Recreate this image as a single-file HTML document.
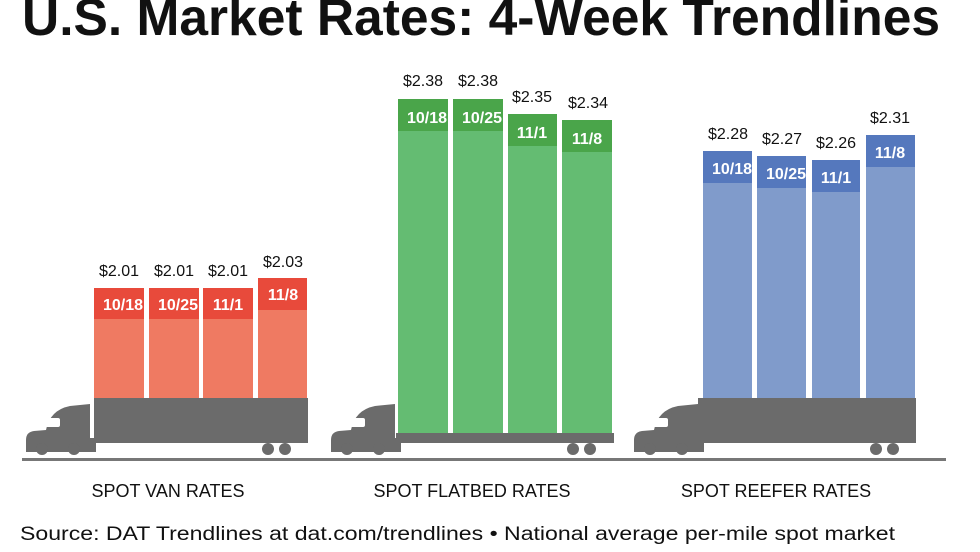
<!DOCTYPE html>
<html><head><meta charset="utf-8"><style>html,body{margin:0;padding:0;background:#fff}svg{display:block}</style></head><body>
<svg width="980" height="552" viewBox="0 0 980 552" xmlns="http://www.w3.org/2000/svg" font-family="Liberation Sans, sans-serif">
<rect width="980" height="552" fill="#fff"/>
<text x="22" y="35" font-size="52" font-weight="bold" fill="#111" textLength="918" lengthAdjust="spacingAndGlyphs">U.S. Market Rates: 4-Week Trendlines</text>
<defs>
<g id="cab" fill="#6b6b6b">
<path d="M26 452 L26 440 Q26 432 34 431 L46 430 Q50 410 70 406 L90 404 L90 438 L96 438 L96 452 Z"/>
<rect x="44" y="418" width="16" height="9" fill="#fff" rx="2"/>
<circle cx="42" cy="449" r="6"/><circle cx="74" cy="449" r="6"/>
</g>
</defs>
<rect x="22" y="458" width="924" height="3" fill="#777"/>
<g>
<rect x="94" y="288" width="50" height="112" fill="#ef7a62"/><rect x="94" y="288" width="50" height="31" fill="#e84a3b"/>
<rect x="149" y="288" width="50" height="112" fill="#ef7a62"/><rect x="149" y="288" width="50" height="31" fill="#e84a3b"/>
<rect x="203" y="288" width="50" height="112" fill="#ef7a62"/><rect x="203" y="288" width="50" height="31" fill="#e84a3b"/>
<rect x="258" y="278" width="49" height="122" fill="#ef7a62"/><rect x="258" y="278" width="49" height="32" fill="#e84a3b"/>
<rect x="94" y="398" width="214" height="45" fill="#6b6b6b"/>
<circle cx="268" cy="449" r="6" fill="#6b6b6b"/><circle cx="285" cy="449" r="6" fill="#6b6b6b"/>
<use href="#cab"/>
</g>
<g font-size="16" fill="#111" text-anchor="middle">
<text x="119" y="276">$2.01</text><text x="174" y="276">$2.01</text><text x="228" y="276">$2.01</text><text x="283" y="267">$2.03</text>
</g>
<g font-size="16" font-weight="bold" fill="#fff" text-anchor="middle">
<text x="123" y="310">10/18</text><text x="178" y="310">10/25</text><text x="228" y="310">11/1</text><text x="283" y="300">11/8</text>
</g>
<g>
<rect x="398" y="99" width="50" height="335" fill="#64bc72"/><rect x="398" y="99" width="50" height="32" fill="#4aa54a"/>
<rect x="453" y="99" width="50" height="335" fill="#64bc72"/><rect x="453" y="99" width="50" height="32" fill="#4aa54a"/>
<rect x="508" y="114" width="49" height="320" fill="#64bc72"/><rect x="508" y="114" width="49" height="32" fill="#4aa54a"/>
<rect x="562" y="120" width="50" height="314" fill="#64bc72"/><rect x="562" y="120" width="50" height="32" fill="#4aa54a"/>
<rect x="396" y="433" width="218" height="10" fill="#6b6b6b"/>
<circle cx="573" cy="449" r="6" fill="#6b6b6b"/><circle cx="590" cy="449" r="6" fill="#6b6b6b"/>
<use href="#cab" transform="translate(305,0)"/>
</g>
<g font-size="16" fill="#111" text-anchor="middle">
<text x="423" y="86">$2.38</text><text x="478" y="86">$2.38</text><text x="532" y="102">$2.35</text><text x="588" y="108">$2.34</text>
</g>
<g font-size="16" font-weight="bold" fill="#fff" text-anchor="middle">
<text x="427" y="123">10/18</text><text x="482" y="123">10/25</text><text x="532" y="138">11/1</text><text x="587" y="144">11/8</text>
</g>
<g>
<rect x="703" y="151" width="49" height="249" fill="#809bcb"/><rect x="703" y="151" width="49" height="32" fill="#5578bd"/>
<rect x="757" y="156" width="49" height="244" fill="#809bcb"/><rect x="757" y="156" width="49" height="32" fill="#5578bd"/>
<rect x="812" y="160" width="48" height="240" fill="#809bcb"/><rect x="812" y="160" width="48" height="32" fill="#5578bd"/>
<rect x="866" y="135" width="49" height="265" fill="#809bcb"/><rect x="866" y="135" width="49" height="32" fill="#5578bd"/>
<rect x="698" y="398" width="218" height="45" fill="#6b6b6b"/>
<circle cx="876" cy="449" r="6" fill="#6b6b6b"/><circle cx="893" cy="449" r="6" fill="#6b6b6b"/>
<use href="#cab" transform="translate(608,0)"/>
</g>
<g font-size="16" fill="#111" text-anchor="middle">
<text x="728" y="139">$2.28</text><text x="782" y="144">$2.27</text><text x="836" y="148">$2.26</text><text x="890" y="123">$2.31</text>
</g>
<g font-size="16" font-weight="bold" fill="#fff" text-anchor="middle">
<text x="732" y="174">10/18</text><text x="786" y="179">10/25</text><text x="836" y="183">11/1</text><text x="890" y="158">11/8</text>
</g>
<g font-size="18" fill="#111" text-anchor="middle">
<text x="168" y="497">SPOT VAN RATES</text>
<text x="472" y="497">SPOT FLATBED RATES</text>
<text x="776" y="497">SPOT REEFER RATES</text>
</g>
<text x="20" y="540" font-size="19" fill="#111" textLength="875" lengthAdjust="spacingAndGlyphs">Source: DAT Trendlines at dat.com/trendlines • National average per-mile spot market</text>
</svg>
</body></html>
